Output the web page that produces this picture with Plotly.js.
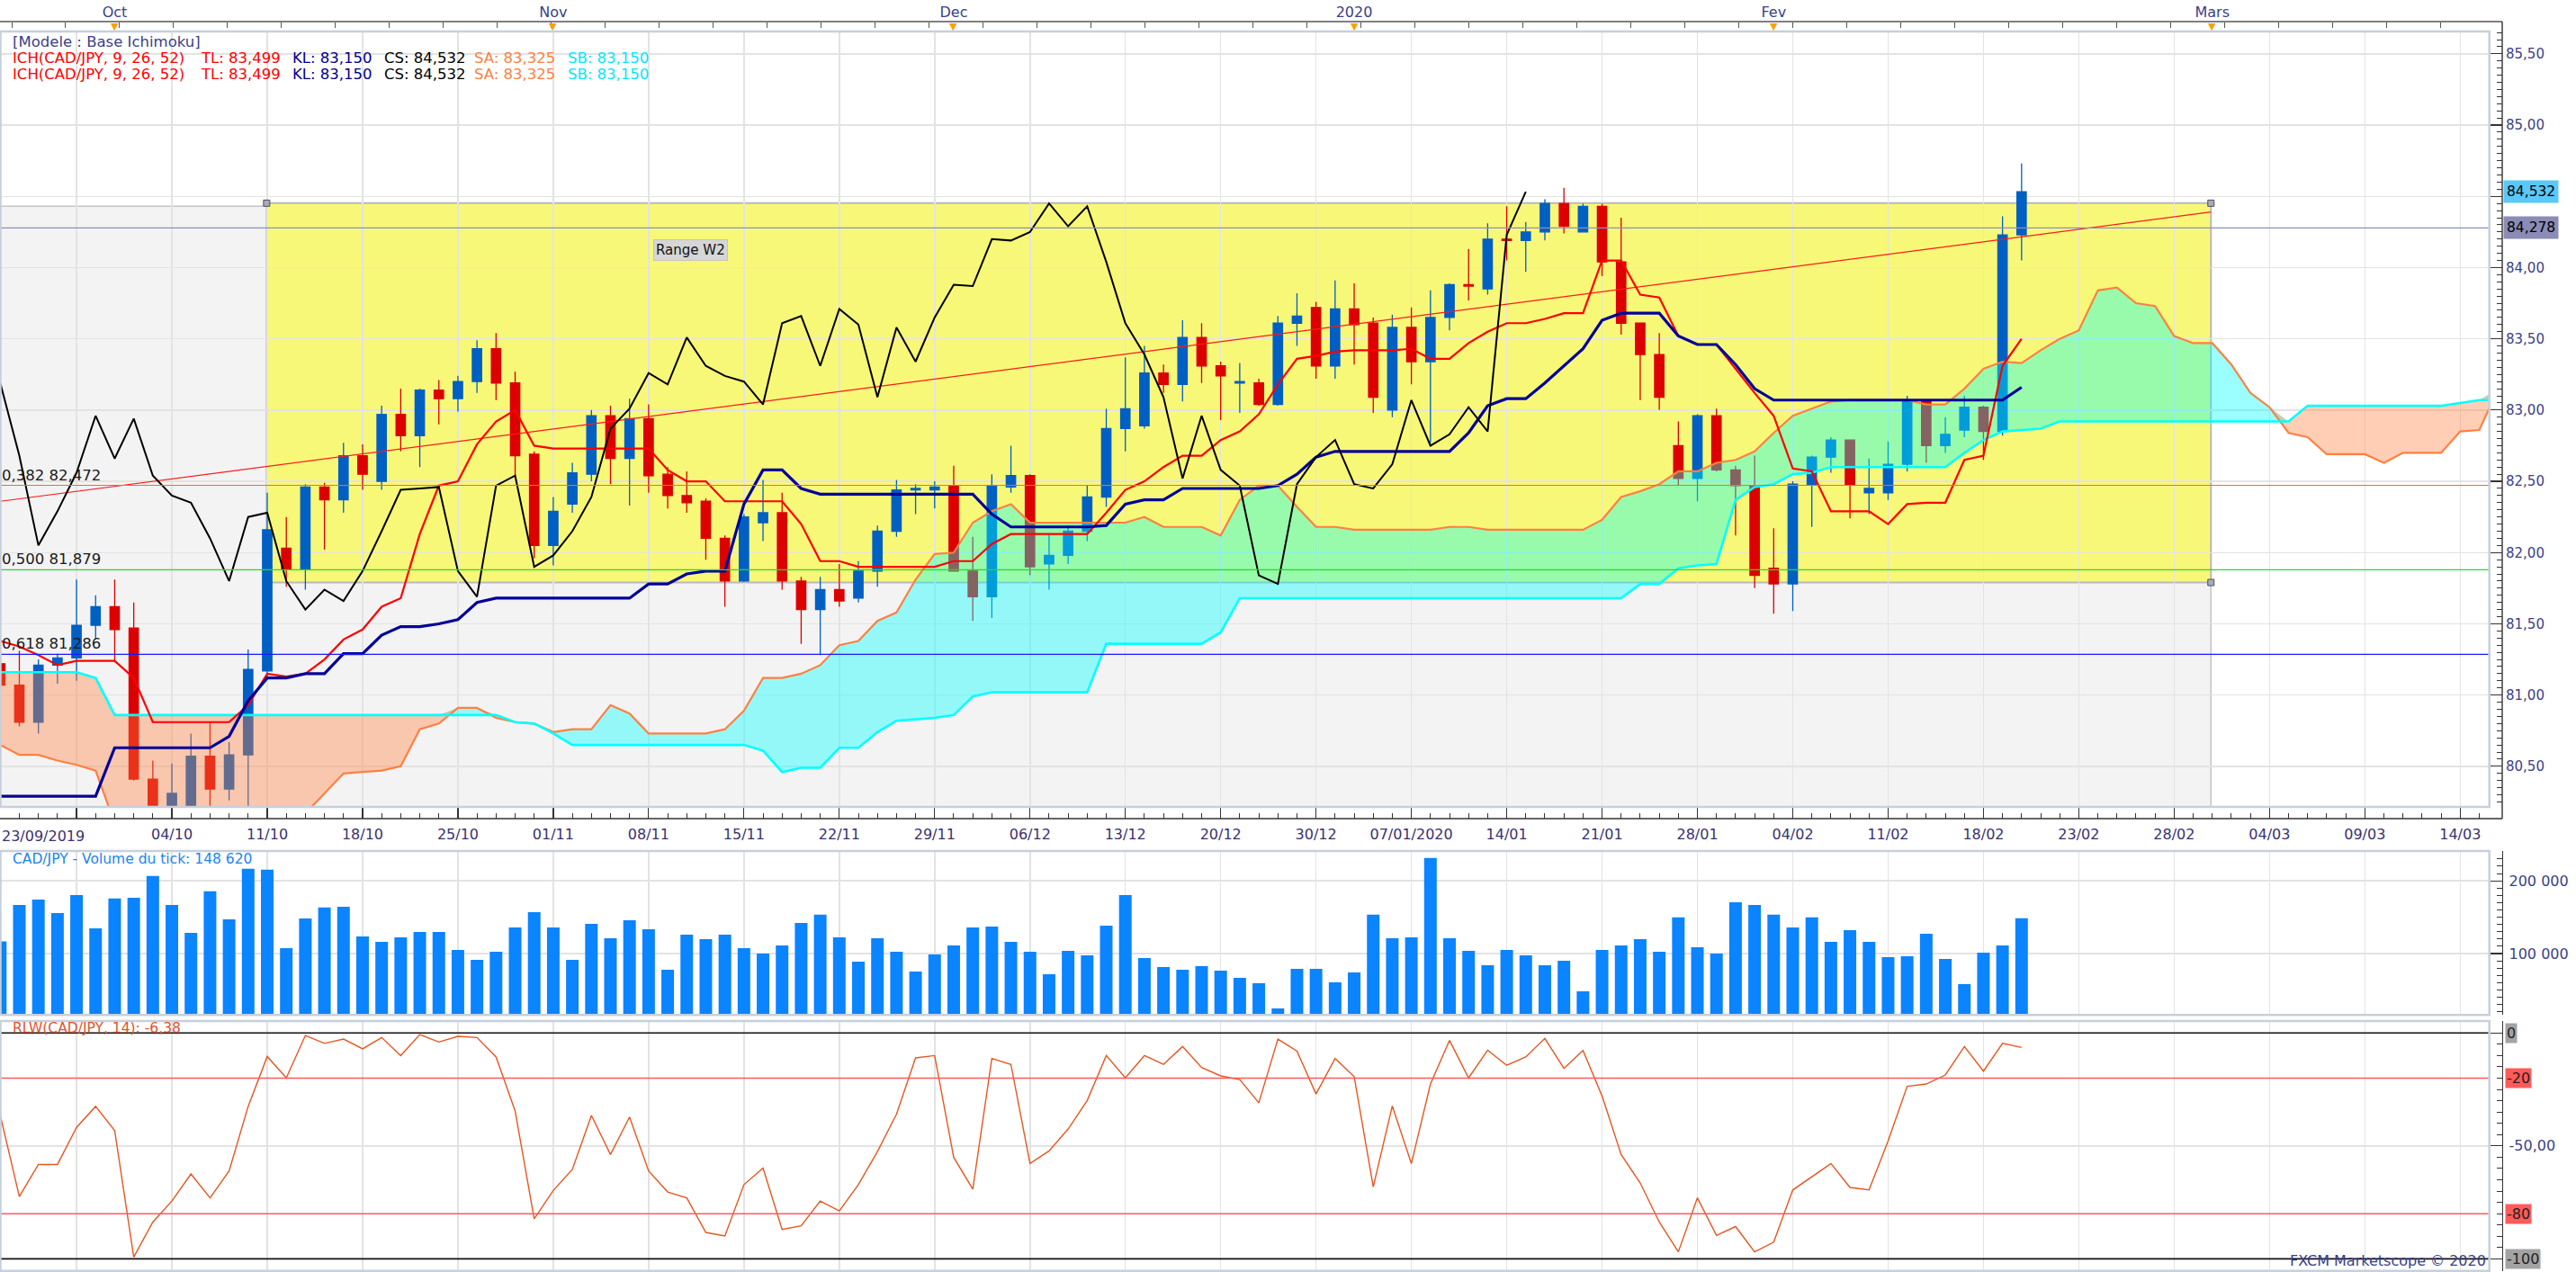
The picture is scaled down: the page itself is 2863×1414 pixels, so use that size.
<!DOCTYPE html>
<html><head><meta charset="utf-8">
<script src="https://cdn.plot.ly/plotly-3.0.1.min.js"></script>
<style>html,body{margin:0;padding:0;background:#fff;}#chart{width:2863px;height:1414px;}</style>
</head><body><div id="chart"></div>
<script>
// ---------------- DATA ----------------
const opens = [81.22,81.07,80.81,81.21,81.26,81.49,81.62,81.47,80.41,80.13,
80.18,80.57,80.34,80.58,81.17,82.03,81.88,82.46,82.37,82.68,
82.50,82.97,82.82,83.14,83.08,83.20,83.43,83.19,82.69,82.05,
82.34,82.55,82.96,82.66,82.94,82.55,82.40,82.36,82.10,81.80,
82.21,82.28,81.80,81.60,81.74,81.68,81.87,82.15,82.44,82.44,
82.47,81.87,81.69,82.46,82.54,81.92,81.98,82.15,82.39,82.87,
82.89,83.26,83.18,83.51,83.31,83.19,83.19,83.04,83.61,83.72,
83.31,83.71,83.61,83.00,83.58,83.34,83.65,83.88,83.85,84.20,
84.19,84.25,84.45,84.25,84.43,84.04,83.61,83.39,82.75,82.52,
82.96,82.58,82.47,81.89,81.78,82.48,82.67,82.79,82.42,82.42,
82.62,83.06,82.75,82.86,83.02,82.85,84.23];
const highs = [81.28,81.31,81.25,81.29,81.81,81.70,81.81,81.65,80.54,80.52,
80.73,80.81,80.67,81.32,82.42,82.25,82.48,82.49,82.77,82.76,
83.03,83.15,83.15,83.21,83.24,83.49,83.54,83.27,82.71,82.39,
82.63,83.00,83.03,83.08,83.04,82.60,82.57,82.38,82.12,82.27,
82.51,82.42,81.83,81.83,81.92,81.94,82.19,82.51,82.48,82.50,
82.61,82.11,82.55,82.75,82.55,82.13,82.19,82.47,83.01,83.37,
83.45,83.32,83.63,83.61,83.34,83.33,83.22,83.66,83.82,83.76,
83.91,83.89,83.65,83.67,83.72,83.84,83.89,84.13,84.31,84.43,
84.32,84.48,84.56,84.45,84.45,84.35,83.61,83.54,82.92,82.97,
83.01,82.61,82.68,82.17,82.50,82.68,82.81,82.79,82.66,82.78,
83.10,83.07,82.95,83.10,83.03,84.36,84.73];
const lows = [80.80,80.78,80.73,81.08,81.10,81.39,81.23,80.40,79.80,79.85,
80.05,80.15,80.26,80.12,81.13,81.76,81.74,82.02,82.28,82.44,
82.44,82.71,82.60,82.90,82.99,83.12,83.07,82.54,81.96,81.91,
82.28,82.50,82.48,82.33,82.42,82.31,82.28,81.95,81.62,81.79,
82.08,81.74,81.36,81.28,81.62,81.65,81.76,82.11,82.27,82.31,
81.87,81.52,81.54,82.42,81.84,81.74,81.92,82.08,82.32,82.71,
82.87,83.12,83.06,83.19,82.93,82.98,83.03,83.03,83.45,83.22,
83.22,83.32,82.98,82.95,83.18,82.77,83.56,83.77,83.81,84.05,
83.97,84.19,84.24,84.25,83.94,83.53,83.07,83.00,82.47,82.36,
82.57,82.12,81.75,81.57,81.59,82.18,82.56,82.24,82.27,82.37,
82.57,82.63,82.70,82.81,82.65,82.82,84.05];
const closes = [81.07,80.81,81.21,81.26,81.49,81.62,81.46,80.41,80.13,80.31,
80.57,80.34,80.58,81.18,82.16,81.88,82.46,82.37,82.68,82.55,
82.97,82.82,83.14,83.08,83.20,83.43,83.19,82.68,82.05,82.29,
82.56,82.96,82.66,82.94,82.54,82.40,82.35,82.10,81.80,82.25,
82.28,81.80,81.60,81.74,81.66,81.87,82.15,82.44,82.45,82.46,
81.87,81.69,82.47,82.54,81.90,81.98,82.15,82.39,82.87,83.01,
83.26,83.18,83.51,83.31,83.24,83.20,83.04,83.61,83.66,83.31,
83.71,83.60,83.09,83.58,83.34,83.65,83.88,83.87,84.20,84.19,
84.25,84.45,84.29,84.43,84.04,83.61,83.39,83.09,82.52,82.96,
82.58,82.47,81.84,81.78,82.48,82.67,82.79,82.48,82.45,82.62,
83.07,82.75,82.83,83.02,82.85,84.23,84.532];
const tenkan = [81.38,81.34,81.28,81.21,81.24,81.24,81.24,81.12,80.81,80.81,
80.81,80.81,80.81,80.93,81.15,81.13,81.15,81.25,81.39,81.46,
81.62,81.68,82.13,82.47,82.50,82.76,82.92,83.00,82.75,82.73,
82.73,82.73,82.73,82.73,82.73,82.58,82.50,82.50,82.36,82.36,
82.36,82.36,82.20,81.94,81.94,81.90,81.90,81.90,81.90,81.90,
81.94,81.94,82.06,82.13,82.13,82.13,82.13,82.13,82.28,82.44,
82.50,82.60,82.68,82.68,82.79,82.85,82.97,83.18,83.36,83.38,
83.41,83.42,83.42,83.42,83.43,83.36,83.36,83.47,83.55,83.61,
83.61,83.64,83.68,83.68,84.05,84.05,83.81,83.79,83.52,83.46,
83.46,83.29,83.12,82.96,82.59,82.57,82.29,82.29,82.29,82.20,
82.34,82.35,82.35,82.65,82.68,83.31,83.50];
const kijun = [80.29,80.29,80.29,80.29,80.29,80.29,80.63,80.63,80.63,80.63,
80.63,80.63,80.71,80.96,81.12,81.12,81.15,81.15,81.29,81.29,
81.42,81.48,81.48,81.50,81.53,81.65,81.68,81.68,81.68,81.68,
81.68,81.68,81.68,81.68,81.78,81.78,81.85,81.87,81.87,82.34,
82.58,82.58,82.45,82.41,82.41,82.41,82.41,82.41,82.41,82.41,
82.41,82.41,82.27,82.18,82.18,82.18,82.18,82.18,82.19,82.34,
82.37,82.37,82.45,82.45,82.45,82.45,82.45,82.47,82.55,82.67,
82.71,82.71,82.71,82.71,82.71,82.71,82.71,82.84,83.03,83.08,
83.08,83.19,83.31,83.43,83.63,83.68,83.68,83.68,83.52,83.46,
83.46,83.32,83.15,83.07,83.07,83.07,83.07,83.07,83.07,83.07,
83.07,83.07,83.07,83.07,83.07,83.07,83.16];
const chikou = [83.19,82.68,82.05,82.29,82.56,82.96,82.66,82.94,82.54,82.40,
82.35,82.10,81.80,82.25,82.28,81.80,81.60,81.74,81.66,81.87,
82.15,82.44,82.45,82.46,81.87,81.69,82.47,82.54,81.90,81.98,
82.15,82.39,82.87,83.01,83.26,83.18,83.51,83.31,83.24,83.20,
83.04,83.61,83.66,83.31,83.71,83.60,83.09,83.58,83.34,83.65,
83.88,83.87,84.20,84.19,84.25,84.45,84.29,84.43,84.04,83.61,
83.39,83.09,82.52,82.96,82.58,82.47,81.84,81.78,82.48,82.67,
82.79,82.48,82.45,82.62,83.07,82.75,82.83,83.02,82.85,84.23,
84.532];
const senkouA = [80.65,80.58,80.58,80.54,80.51,80.47,80.10,80.00,79.95,79.95,
79.95,79.95,79.95,79.95,79.95,80.05,80.17,80.31,80.45,80.46,
80.47,80.50,80.76,80.80,80.91,80.91,80.84,80.81,80.80,80.74,
80.76,80.76,80.93,80.87,80.73,80.73,80.73,80.73,80.76,80.89,
81.12,81.12,81.15,81.21,81.35,81.38,81.52,81.58,81.81,81.99,
82.00,82.21,82.29,82.34,82.21,82.21,82.21,82.21,82.21,82.21,
82.25,82.18,82.18,82.18,82.12,82.37,82.47,82.47,82.32,82.18,
82.18,82.16,82.16,82.16,82.16,82.16,82.18,82.18,82.16,82.16,
82.16,82.16,82.16,82.16,82.23,82.39,82.43,82.48,82.57,82.57,
82.63,82.65,82.71,82.84,82.96,83.01,83.06,83.07,83.07,83.07,
83.07,83.04,83.04,83.15,83.29,83.34,83.33,83.42,83.50,83.56,
83.84,83.86,83.75,83.73,83.52,83.47,83.47,83.32,83.12,83.02,
82.84,82.81,82.69,82.69,82.69,82.63,82.70,82.70,82.70,82.85,
82.86,83.15,83.20];
const senkouB = [81.16,81.16,81.16,81.16,81.16,81.12,80.86,80.86,80.86,80.86,
80.86,80.86,80.86,80.86,80.86,80.86,80.86,80.86,80.86,80.86,
80.86,80.86,80.86,80.86,80.86,80.86,80.86,80.81,80.80,80.73,
80.65,80.65,80.65,80.65,80.65,80.65,80.65,80.65,80.65,80.65,
80.61,80.46,80.49,80.49,80.63,80.63,80.74,80.82,80.83,80.84,
80.86,80.99,81.02,81.02,81.02,81.02,81.02,81.02,81.36,81.36,
81.36,81.36,81.36,81.36,81.44,81.68,81.68,81.68,81.68,81.68,
81.68,81.68,81.68,81.68,81.68,81.68,81.68,81.68,81.68,81.68,
81.68,81.68,81.68,81.68,81.68,81.68,81.78,81.78,81.89,81.91,
81.92,82.37,82.46,82.48,82.55,82.56,82.60,82.60,82.60,82.60,
82.60,82.60,82.60,82.70,82.79,82.85,82.86,82.87,82.92,82.92,
82.92,82.92,82.92,82.92,82.92,82.92,82.92,82.92,82.92,82.92,
82.92,83.03,83.03,83.03,83.03,83.03,83.03,83.03,83.03,83.05,
83.07,83.07,83.07];
const volumes = [116500,166900,174300,155700,180500,134700,175600,176800,206600,166900,
128500,185500,147100,216500,215200,107400,148300,163200,164400,123500,
116100,122300,129700,129700,104900,91300,102500,135900,157000,135900,
91300,140900,121100,145800,133400,77700,126000,119800,126000,107400,
100000,111100,142100,153300,122300,88800,121100,102500,75200,98700,
111100,135900,137200,116100,102500,71500,103700,97500,138400,180500,
93800,81400,77700,82600,76400,66500,59100,24400,78900,78900,
60300,74000,153300,121100,122300,231300,121100,103700,83900,104900,
97500,83900,90100,47900,104900,111100,119800,102500,149600,108700,
100000,170600,166900,153300,135900,149600,116100,132200,116100,95000,
96300,127200,92500,57800,101200,111100,148620];
const rlw = [-36.5,-72.4,-58.2,-58.2,-41.8,-32.5,-43.2,-99.2,-83.7,-74.4,
-62.4,-73.0,-61.1,-32.5,-10.4,-19.9,-1.1,-4.6,-2.7,-7.0,
-2.0,-10.0,-0.7,-4.0,-1.5,-2.0,-10.6,-34.5,-82.3,-69.7,
-60.4,-36.5,-53.8,-37.2,-61.1,-70.4,-73.0,-88.3,-89.9,-67.1,
-59.8,-87.0,-85.4,-74.4,-78.8,-67.1,-52.5,-35.9,-11.0,-10.0,
-55.1,-69.1,-11.3,-13.9,-57.8,-52.2,-42.5,-29.9,-10.0,-19.9,
-10.0,-13.9,-6.0,-15.3,-19.0,-20.6,-30.9,-2.7,-8.0,-27.0,
-11.3,-19.3,-68.1,-32.3,-57.8,-22.6,-3.3,-19.9,-7.6,-14.3,
-10.6,-2.4,-15.7,-7.7,-27.9,-53.8,-66.4,-83.7,-96.9,-73.0,
-89.6,-85.7,-96.9,-92.6,-69.5,-63.7,-57.8,-68.4,-69.5,-47.8,
-23.6,-22.6,-18.6,-6.0,-16.9,-4.6,-6.38];
const weekTickIdx = [4,9,14,19,24,29,34,39,44,49,54,59,64,69,74,79,84,89,94,99,104,109,114,119,124,129];
const weekTickLabels = ['','04/10','11/10','18/10','25/10','01/11','08/11','15/11','22/11','29/11','06/12','13/12','20/12','30/12','07/01/2020','14/01','21/01','28/01','04/02','11/02','18/02','23/02','28/02','04/03','09/03','14/03'];
const firstDateLabel = '23/09/2019';
const monthIdx = [6,29,50,71,93,116];
const monthLabels = ['Oct','Nov','Dec','2020','Fev','Mars'];
const priceTicks = [80.5,81.0,81.5,82.0,82.5,83.0,83.5,84.0,84.5,85.0,85.5];
const priceTickLabels = ['80,50','81,00','81,50','82,00','82,50','83,00','83,50','84,00','','85,00','85,50'];
const fibLevels = [82.472, 81.879, 81.286];
const fibLabels = ['0,382 82,472','0,500 81,879','0,618 81,286'];
const rangeX = [13.97, 115.93];
const rangeY = [81.79, 84.452];
const greyTop = 84.43;
const trendX = [0, 115.93];
const trendY = [82.36, 84.39];
const markLevel = 84.278;
const lastPrice = 84.532;
const rangeLabelPos = [36.2, 84.12];
const rlwLevels = [0, -20, -80, -100];
const legendParts = ['ICH(CAD/JPY, 9, 26, 52)','TL: 83,499','KL: 83,150','CS: 84,532','SA: 83,325','SB: 83,150'];

// ---------------- LAYOUT / STYLE ----------------
const W = 2863, H = 1414;
const PLOT_R = 2766.7, AXIS_X = 2781;
const TOPLINE = 24, MAIN_T = 35, MAIN_B = 897, DATELINE = 910;
const VOL_T = 946, VOL_B = 1128.3, RLW_T = 1135, RLW_B = 1412.7;
const X_RANGE = [-0.014, 130.53];
const px = v => v / W, py = v => 1 - v / H;
const FONT = 'DejaVu Sans, Verdana, sans-serif';
const TXT = '#3a3f8a', DATE_TXT = '#3a3270';
const BLUE = '#005fc2', RED = '#dc0000';
const GRID = '#e3e3e3', FRAME = '#c6d0dc', AX = '#333333';
const legendX = [12, 221, 323, 425, 525, 629];
const legendColors = ['#ff0000', '#ff0000', '#00008b', '#000000', '#ff8040', '#00e8ff'];

const dayIndex = opens.map((_, i) => i);
const cloudIndex = senkouA.map((_, i) => i);
const chikouIndex = chikou.map((_, i) => i);
const cloudTop = senkouA.map((a, i) => Math.max(a, senkouB[i]));

const traces = [
  {type:'candlestick', x:dayIndex, open:opens, high:highs, low:lows, close:closes,
   xaxis:'x', yaxis:'y', whiskerwidth:0, hoverinfo:'skip', showlegend:false,
   increasing:{line:{color:BLUE, width:1.3}, fillcolor:BLUE},
   decreasing:{line:{color:RED, width:1.3}, fillcolor:RED}},
  {type:'scatter', mode:'lines', x:cloudIndex, y:senkouB, line:{width:0}, hoverinfo:'skip', showlegend:false},
  {type:'scatter', mode:'lines', x:cloudIndex, y:cloudTop, line:{width:0}, fill:'tonexty',
   fillcolor:'rgba(0,255,255,0.39)', hoverinfo:'skip', showlegend:false},
  {type:'scatter', mode:'lines', x:cloudIndex, y:senkouA, line:{width:0}, hoverinfo:'skip', showlegend:false},
  {type:'scatter', mode:'lines', x:cloudIndex, y:cloudTop, line:{width:0}, fill:'tonexty',
   fillcolor:'rgba(255,128,64,0.39)', hoverinfo:'skip', showlegend:false},
  {type:'scatter', mode:'lines', x:cloudIndex, y:senkouA, line:{color:'#ff8040', width:2.2}, hoverinfo:'skip', showlegend:false},
  {type:'scatter', mode:'lines', x:cloudIndex, y:senkouB, line:{color:'#00ffff', width:2.6}, hoverinfo:'skip', showlegend:false},
  {type:'scatter', mode:'lines', x:trendX, y:trendY, line:{color:'#ff1a1a', width:1.2}, hoverinfo:'skip', showlegend:false},
  {type:'scatter', mode:'lines', x:dayIndex, y:tenkan, line:{color:'#ff0000', width:2.2}, hoverinfo:'skip', showlegend:false},
  {type:'scatter', mode:'lines', x:dayIndex, y:kijun, line:{color:'#00009a', width:3.2}, hoverinfo:'skip', showlegend:false},
  {type:'scatter', mode:'lines', x:chikouIndex, y:chikou, line:{color:'#000000', width:2}, hoverinfo:'skip', showlegend:false},
  {type:'bar', x:dayIndex, y:volumes, xaxis:'x2', yaxis:'y2', width:0.66,
   marker:{color:'#0a84ff', line:{width:0}}, hoverinfo:'skip', showlegend:false},
  {type:'scatter', mode:'lines', x:dayIndex, y:rlw, xaxis:'x3', yaxis:'y3',
   line:{color:'#e8561f', width:1.4}, hoverinfo:'skip', showlegend:false},
  {type:'scatter', mode:'markers', x:[0], y:[83], xaxis:'x4', yaxis:'y',
   marker:{opacity:0, size:1}, hoverinfo:'skip', showlegend:false}
];

const xCommon = {domain:[0, px(PLOT_R)], range:X_RANGE, tickmode:'array', tickvals:weekTickIdx,
  showgrid:true, gridcolor:GRID, gridwidth:1.5, zeroline:false, fixedrange:true};

const layout = {
  width:W, height:H, margin:{l:0, r:0, t:0, b:0}, autosize:false,
  paper_bgcolor:'#ffffff', plot_bgcolor:'#ffffff', showlegend:false, hovermode:false,
  separators:', ', font:{family:FONT, color:TXT, size:15},
  xaxis: Object.assign({}, xCommon, {anchor:'free', position:py(DATELINE),
    ticktext:weekTickLabels, ticks:'inside', ticklen:13, tickwidth:1.2, tickcolor:AX,
    minor:{tickmode:'linear', tick0:0, dtick:1, ticks:'inside', ticklen:6, tickwidth:1, tickcolor:AX, showgrid:false},
    tickfont:{family:FONT, size:16, color:DATE_TXT}, ticklabelstandoff:6, showline:false,
    rangeslider:{visible:false}}),
  xaxis2: Object.assign({}, xCommon, {anchor:'y2', ticktext:weekTickIdx.map(() => ''), ticks:'', showticklabels:false}),
  xaxis3: Object.assign({}, xCommon, {anchor:'y3', ticktext:weekTickIdx.map(() => ''), ticks:'', showticklabels:false}),
  xaxis4: {overlaying:'x', anchor:'free', position:py(TOPLINE), side:'top', domain:[0, px(PLOT_R)],
    range:X_RANGE, tickmode:'array', tickvals:monthIdx, ticktext:monthLabels, ticks:'', showgrid:false,
    zeroline:false, showline:false, fixedrange:true,
    minor:{tickmode:'linear', tick0:0.6, dtick:2.83, ticks:'inside', ticklen:6, tickwidth:1, tickcolor:'#555555', showgrid:false},
    tickfont:{family:FONT, size:16, color:TXT}, ticklabelstandoff:2},
  yaxis: {domain:[py(MAIN_B), py(MAIN_T)], range:[80.215, 85.657], anchor:'free', position:px(AXIS_X), side:'right',
    tickmode:'array', tickvals:priceTicks, ticktext:priceTickLabels, ticks:'inside', ticklen:13, tickwidth:1.2, tickcolor:AX,
    minor:{tickmode:'linear', tick0:80, dtick:0.05, ticks:'inside', ticklen:6, tickwidth:1, tickcolor:AX, showgrid:false},
    showgrid:true, gridcolor:GRID, gridwidth:1.5, zeroline:false, showline:false, fixedrange:true,
    tickfont:{family:FONT, size:15, color:TXT}, ticklabelstandoff:3},
  yaxis2: {domain:[py(VOL_B), py(VOL_T)], range:[15400, 241000], anchor:'free', position:px(AXIS_X), side:'right',
    tickmode:'array', tickvals:[100000, 200000], tickformat:',d', ticks:'inside', ticklen:13, tickwidth:1.2, tickcolor:AX,
    minor:{tickmode:'linear', tick0:0, dtick:10000, ticks:'inside', ticklen:6, tickwidth:1, tickcolor:AX, showgrid:false},
    showgrid:true, gridcolor:GRID, gridwidth:1.5, zeroline:false, showline:true, linecolor:AX, linewidth:1.3, fixedrange:true,
    tickfont:{family:FONT, size:16, color:TXT}, ticklabelstandoff:3},
  yaxis3: {domain:[py(RLW_B), py(RLW_T)], range:[-105.3, 5.3], anchor:'free', position:px(AXIS_X), side:'right',
    tickmode:'array', tickvals:[0, -50, -100], ticktext:['', '-50,00', ''], ticks:'inside', ticklen:13, tickwidth:1.2, tickcolor:AX,
    minor:{tickmode:'linear', tick0:0, dtick:5, ticks:'inside', ticklen:6, tickwidth:1, tickcolor:AX, showgrid:false},
    showgrid:true, gridcolor:GRID, gridwidth:1.5, zeroline:false, showline:true, linecolor:AX, linewidth:1.3, fixedrange:true,
    tickfont:{family:FONT, size:16, color:TXT}, ticklabelstandoff:3},
  shapes: [], annotations: []
};

const S = layout.shapes, A = layout.annotations;
S.push({type:'rect', xref:'x', yref:'y', x0:-1, x1:rangeX[1], y0:79, y1:greyTop, layer:'below',
  fillcolor:'#f3f3f3', line:{color:'#c2c4cc', width:1.5}});
S.push({type:'rect', xref:'x', yref:'y', x0:rangeX[0], x1:rangeX[1], y0:rangeY[0], y1:rangeY[1], layer:'below',
  fillcolor:'#f8f878', line:{color:'#b9b9b9', width:2}});
const fibColors = ['#ff6a1a', '#22dd22', '#1a1aff'];
fibLevels.forEach((lv, k) => S.push({type:'line', xref:'x domain', yref:'y', x0:0, x1:1, y0:lv, y1:lv,
  layer:'above', line:{color:fibColors[k], width:1.2}}));
S.push({type:'line', xref:'x domain', yref:'y', x0:0, x1:1, y0:markLevel, y1:markLevel, layer:'above',
  line:{color:'#8a90c2', width:1.2}});
[[rangeX[0], rangeY[1]], [rangeX[1], rangeY[1]], [rangeX[1], rangeY[0]]].forEach(p => S.push({
  type:'rect', xref:'x', yref:'y', xsizemode:'pixel', ysizemode:'pixel', xanchor:p[0], yanchor:p[1],
  x0:-3.5, x1:3.5, y0:-3.5, y1:3.5, layer:'above', fillcolor:'#a8aab8', line:{color:'#505060', width:1}}));
rlwLevels.forEach(lv => S.push({type:'line', xref:'x3 domain', yref:'y3', x0:0, x1:1, y0:lv, y1:lv, layer:'above',
  line:{color:(lv === 0 || lv === -100) ? '#111111' : '#ff5a5a', width:1.6}}));
[[MAIN_T, MAIN_B], [VOL_T, VOL_B], [RLW_T, RLW_B]].forEach(r => S.push({type:'rect', xref:'paper', yref:'paper',
  x0:px(0.5), x1:px(PLOT_R), y0:py(r[1]), y1:py(r[0]), layer:'above', line:{color:FRAME, width:2.5}}));
S.push({type:'line', xref:'paper', yref:'paper', x0:0, x1:px(AXIS_X), y0:py(TOPLINE), y1:py(TOPLINE), line:{color:'#555555', width:1.5}});
S.push({type:'line', xref:'paper', yref:'paper', x0:0, x1:px(AXIS_X), y0:py(DATELINE), y1:py(DATELINE), line:{color:AX, width:1.6}});
S.push({type:'line', xref:'paper', yref:'paper', x0:px(AXIS_X), x1:px(AXIS_X), y0:py(DATELINE), y1:py(TOPLINE), line:{color:AX, width:1.4}});

monthIdx.forEach(m => A.push({xref:'x', yref:'paper', x:m, y:py(29.5), text:'▼', showarrow:false,
  yanchor:'middle', font:{family:FONT, size:11, color:'#f5a300'}}));
A.push({xref:'paper', yref:'paper', x:px(12), y:py(47), xanchor:'left', yanchor:'middle', showarrow:false,
  text:'[Modele : Base Ichimoku]', font:{family:FONT, size:16.5, color:TXT}});
[65, 82].forEach(yy => legendParts.forEach((t, k) => A.push({xref:'paper', yref:'paper', x:px(legendX[k]), y:py(yy),
  xanchor:'left', yanchor:'middle', showarrow:false, text:t, font:{family:FONT, size:16.5, color:legendColors[k]}})));
A.push({xref:'paper', yref:'paper', x:0, y:py(929), xanchor:'left', yanchor:'middle', showarrow:false,
  text:firstDateLabel, font:{family:FONT, size:16, color:DATE_TXT}});
A.push({xref:'x', yref:'y', x:rangeLabelPos[0], y:rangeLabelPos[1], showarrow:false, text:'Range W2',
  bgcolor:'#d6d6d6', bordercolor:'#c4c4c4', borderwidth:1, borderpad:2, font:{family:FONT, size:15, color:'#111111'}});
fibLabels.forEach((t, k) => A.push({xref:'paper', yref:'y', x:0, y:fibLevels[k], xanchor:'left', yanchor:'bottom',
  showarrow:false, text:t, font:{family:FONT, size:16.5, color:'#1a1a1a'}}));
A.push({xref:'paper', yref:'y', x:px(AXIS_X + 1), y:lastPrice, xanchor:'left', yanchor:'middle', showarrow:false,
  text:'84,532', bgcolor:'#5ac8fa', borderpad:3, font:{family:FONT, size:15.5, color:'#000000'}});
A.push({xref:'paper', yref:'y', x:px(AXIS_X + 1), y:markLevel, xanchor:'left', yanchor:'middle', showarrow:false,
  text:'84,278', bgcolor:'#8a8cb6', borderpad:3, font:{family:FONT, size:15.5, color:'#000000'}});
A.push({xref:'paper', yref:'paper', x:px(12), y:py(955), xanchor:'left', yanchor:'middle', showarrow:false,
  text:'CAD/JPY - Volume du tick: 148 620', font:{family:FONT, size:15.5, color:'#1a85f0'}});
A.push({xref:'paper', yref:'paper', x:px(12), y:py(1143), xanchor:'left', yanchor:'middle', showarrow:false,
  text:'RLW(CAD/JPY, 14): -6,38', font:{family:FONT, size:15.5, color:'#e2532d'}});
[[0, '0', '#a3a3a3'], [-20, '-20', '#ff5a5a'], [-80, '-80', '#ff5a5a'], [-100, '-100', '#a3a3a3']].forEach(r =>
  A.push({xref:'paper', yref:'y3', x:px(AXIS_X + 3), y:r[0], xanchor:'left', yanchor:'middle', showarrow:false,
    text:r[1], bgcolor:r[2], borderpad:1, font:{family:FONT, size:16, color:'#222222'}}));
A.push({xref:'paper', yref:'paper', x:px(PLOT_R - 2), y:py(1401), xanchor:'right', yanchor:'middle', showarrow:false,
  text:'FXCM Marketscope © 2020', font:{family:FONT, size:16, color:TXT}});

Plotly.newPlot('chart', traces, layout, {staticPlot:true, displayModeBar:false});
</script></body></html>
